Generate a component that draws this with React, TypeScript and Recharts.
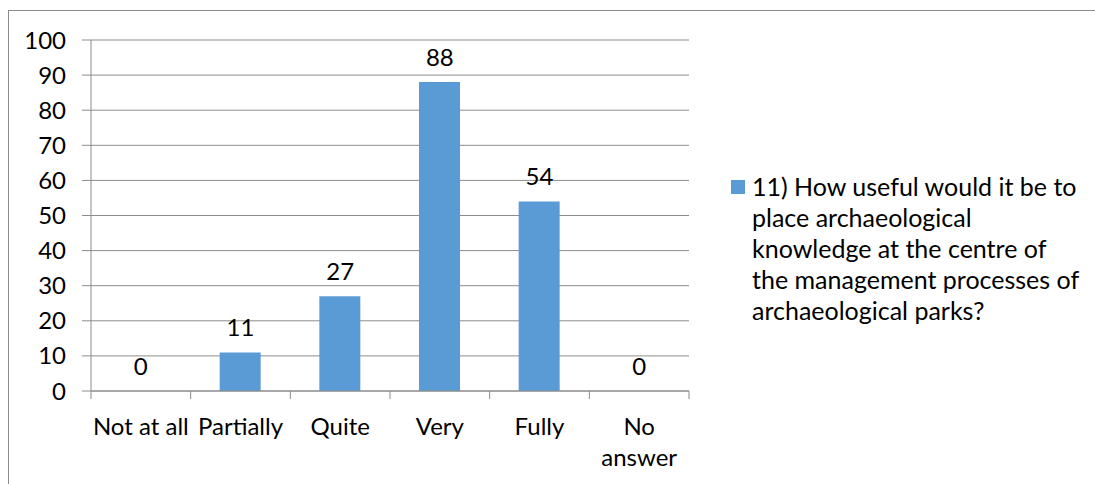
import { Bar, CartesianGrid, ComposedChart, LabelList, Legend, Line, XAxis, YAxis } from "recharts";

const categories = ["Not at all", "Partially", "Quite", "Very", "Fully", "No answer"];
const counts = [0, 11, 27, 88, 54, 0];
const yTicks = [0, 10, 20, 30, 40, 50, 60, 70, 80, 90, 100];
const seriesName =
  "11) How useful would it be to place archaeological knowledge at the centre of the management processes of archaeological parks?";

const data = categories.map((c, i) => ({ category: c, value: counts[i] }));

const FONT = "Lato, Calibri, Carlito, sans-serif";
const AXIS = "#8c8c8c";
const BAR = "#5b9bd5";

const W = 1095;
const H = 484;
const M = { top: 40, right: 406, bottom: 0, left: 0 };
const Y_W = 91;
const HALF = (W - M.right - M.left - Y_W) / categories.length / 2;

let ctx: CanvasRenderingContext2D | null = null;
function wrapWords(label: string, maxWidth: number) {
  if (!ctx) ctx = document.createElement("canvas").getContext("2d");
  if (!ctx) return [label];
  ctx.font = `24px ${FONT}`;
  const lines: string[] = [];
  let cur = "";
  for (const w of label.split(" ")) {
    const next = cur ? cur + " " + w : w;
    if (cur && ctx.measureText(next).width > maxWidth) {
      lines.push(cur);
      cur = w;
    } else {
      cur = next;
    }
  }
  if (cur) lines.push(cur);
  return lines;
}

function CategoryTick(props: any) {
  const { x, y, payload, index, visibleTicksCount } = props;
  const last = index === visibleTicksCount - 1;
  const lines = wrapWords(String(payload.value), HALF * 2);
  return (
    <g>
      <line x1={x - HALF} x2={x - HALF} y1={y} y2={y + 8} stroke={AXIS} strokeWidth={1} />
      {last && <line x1={x + HALF} x2={x + HALF} y1={y} y2={y + 8} stroke={AXIS} strokeWidth={1} />}
      <text textAnchor="middle" fontSize={24} fontFamily={FONT} fill="#000">
        {lines.map((l, i) => (
          <tspan key={i} x={x} y={y + 44 + i * 31}>
            {l}
          </tspan>
        ))}
      </text>
    </g>
  );
}

// data labels sit 16px above the top of each bar (Excel "outside end")
function renderValue(props: any) {
  const { x, y, value } = props;
  return (
    <text x={x} y={y - 16} textAnchor="middle" fontSize={24} fontFamily={FONT} fill="#000">
      {String(value)}
    </text>
  );
}

function SideLegend(props: any) {
  const item = props.payload?.find((p: any) => p.dataKey === "value" && p.type !== "none");
  return (
    <div style={{ display: "flex", alignItems: "flex-start", fontFamily: FONT, fontSize: 25, lineHeight: "31px", color: "#000" }}>
      <span style={{ width: 14, height: 14, background: item?.color ?? BAR, marginTop: 9, marginRight: 7, flex: "none" }} />
      <span style={{ width: 330 }}>{item?.value ?? seriesName}</span>
    </div>
  );
}

export default function App() {
  return (
    <div style={{ position: "absolute", left: 0, top: 0, width: W, height: H, background: "#fff", overflow: "hidden" }}>
      <div style={{ position: "absolute", left: 8, top: 10, right: 0, bottom: 0, borderTop: `1px solid ${AXIS}`, borderLeft: `1px solid ${AXIS}` }} />
      <ComposedChart width={W} height={H} data={data} margin={M} style={{ position: "absolute", left: 0, top: 0 }}>
        <CartesianGrid vertical={false} stroke={AXIS} />
        <XAxis
          dataKey="category"
          height={93}
          interval={0}
          tickSize={0}
          tickMargin={0}
          axisLine={{ stroke: AXIS }}
          tickLine={false}
          tick={<CategoryTick />}
        />
        <YAxis
          width={Y_W}
          domain={[0, 100]}
          ticks={yTicks}
          interval={0}
          tickSize={9}
          tickMargin={16}
          axisLine={{ stroke: AXIS }}
          tickLine={{ stroke: AXIS }}
          tick={{ fontSize: 24, fontFamily: FONT, fill: "#000" }}
        />
        <Legend
          layout="horizontal"
          verticalAlign="middle"
          align="center"
          wrapperStyle={{ left: 731, top: 171, width: 360 }}
          content={<SideLegend />}
        />
        <Bar dataKey="value" name={seriesName} fill={BAR} barSize={41} isAnimationActive={false} />
        <Line dataKey="value" stroke="none" dot={false} activeDot={false} legendType="none" isAnimationActive={false}>
          <LabelList dataKey="value" content={renderValue} />
        </Line>
      </ComposedChart>
    </div>
  );
}
